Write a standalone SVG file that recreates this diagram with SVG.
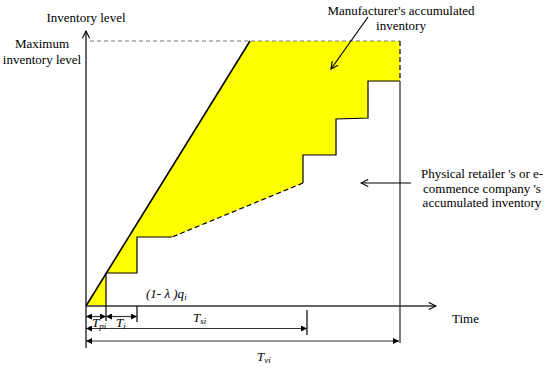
<svg xmlns="http://www.w3.org/2000/svg" width="550" height="368" viewBox="0 0 550 368" font-family="'Liberation Serif', 'DejaVu Serif', serif">
<style>
text{font-family:'Liberation Serif','DejaVu Serif',serif;font-size:13px;fill:#000}
.it{font-style:italic}
.sub{font-size:9px}
.ln{stroke:#000;stroke-width:1.2;fill:none}
.ax{stroke:#333;stroke-width:1.3;fill:none}
.dash{stroke:#000;stroke-width:1.2;stroke-dasharray:5,3;fill:none}
.gdash{stroke:#777;stroke-width:1;stroke-dasharray:4,3;fill:none}
.dim{stroke:#333;stroke-width:1.2;fill:none}
</style>
<defs>
<marker id="open" viewBox="0 0 10 10" refX="9" refY="5" markerWidth="9" markerHeight="9" markerUnits="userSpaceOnUse" orient="auto"><path d="M1,1 L9,5 L1,9" fill="none" stroke="#000" stroke-width="1.2"/></marker>
<marker id="dimArrow" viewBox="0 0 6 6" refX="6" refY="3" markerWidth="6" markerHeight="6" markerUnits="userSpaceOnUse" orient="auto-start-reverse"><path d="M0,0 L6,3 L0,6 z" fill="#000"/></marker>
</defs>

<g id="inventory-area">
<path d="M86,306 L250,41 L400,41 L400,81 L368,81 L368,118 L336,119 L336,155 L303,155 L303,183 L172,237 L137,237 L137,273 L106,273 L106,306 Z" fill="#ffff00" stroke="none"/>
<path class="ln" d="M400,81 L368,81 L368,118 L336,119 L336,155 L303,155 L303,183"/>
<path class="dash" d="M303,183 L172,237"/>
<path class="ln" d="M172,237 L137,237 L137,273 L106,273"/>
<path class="gdash" d="M90,41 L400,41"/>
<path class="dash" d="M400,41 L400,81"/>
<path d="M86,306 L250,41" stroke="#000" stroke-width="1.6" fill="none"/>
</g>

<g id="connectors">
<line class="ln" x1="86" y1="348" x2="86" y2="31" marker-end="url(#open)"/>
<line class="ax" x1="86" y1="306" x2="436" y2="306" marker-end="url(#open)"/>
<line class="ax" x1="400" y1="81" x2="400" y2="343"/>
<line class="ln" x1="106" y1="273" x2="106" y2="321"/>
<line class="ln" x1="137" y1="306" x2="137" y2="322"/>
<line class="ln" x1="307" y1="310" x2="307" y2="335"/>
<line class="dim" x1="86" y1="316.5" x2="106" y2="316.5" marker-start="url(#dimArrow)" marker-end="url(#dimArrow)"/>
<line class="dim" x1="106" y1="316.5" x2="137" y2="316.5" marker-start="url(#dimArrow)" marker-end="url(#dimArrow)"/>
<line class="dim" x1="86" y1="328.5" x2="307" y2="328.5" marker-start="url(#dimArrow)" marker-end="url(#dimArrow)"/>
<line class="dim" x1="86" y1="341" x2="399" y2="341" marker-start="url(#dimArrow)" marker-end="url(#dimArrow)"/>
<line class="ln" x1="368" y1="17" x2="331" y2="69" marker-end="url(#open)"/>
<line class="ln" x1="411" y1="183" x2="361" y2="183" marker-end="url(#open)"/>
</g>

<g id="label-inventory-level"><text x="86" y="22" text-anchor="middle">Inventory level</text></g>
<g id="label-max"><text x="42" y="48" text-anchor="middle">Maximum</text><text x="42" y="64" text-anchor="middle">inventory level</text></g>
<g id="label-manufacturer"><text x="401" y="14.5" text-anchor="middle">Manufacturer's accumulated</text><text x="401" y="30" text-anchor="middle">inventory</text></g>
<g id="label-retailer"><text x="482" y="178" text-anchor="middle">Physical retailer 's or e-</text><text x="482" y="192.5" text-anchor="middle">commence company 's</text><text x="482" y="207" text-anchor="middle">accumulated inventory</text></g>
<g id="label-time"><text x="452" y="323">Time</text></g>
<g id="label-q"><text x="146" y="298" class="it">(1- λ )q<tspan class="sub" dy="2">i</tspan></text></g>
<g id="label-tpi"><text x="92" y="327" class="it">T<tspan class="sub" dy="2">pi</tspan></text></g>
<g id="label-ti"><text x="116" y="327" class="it">T<tspan class="sub" dy="2">i</tspan></text></g>
<g id="label-tsi"><text x="193" y="322" class="it">T<tspan class="sub" dy="2">si</tspan></text></g>
<g id="label-tvi"><text x="257" y="361" class="it">T<tspan class="sub" dy="2">vi</tspan></text></g>
</svg>
